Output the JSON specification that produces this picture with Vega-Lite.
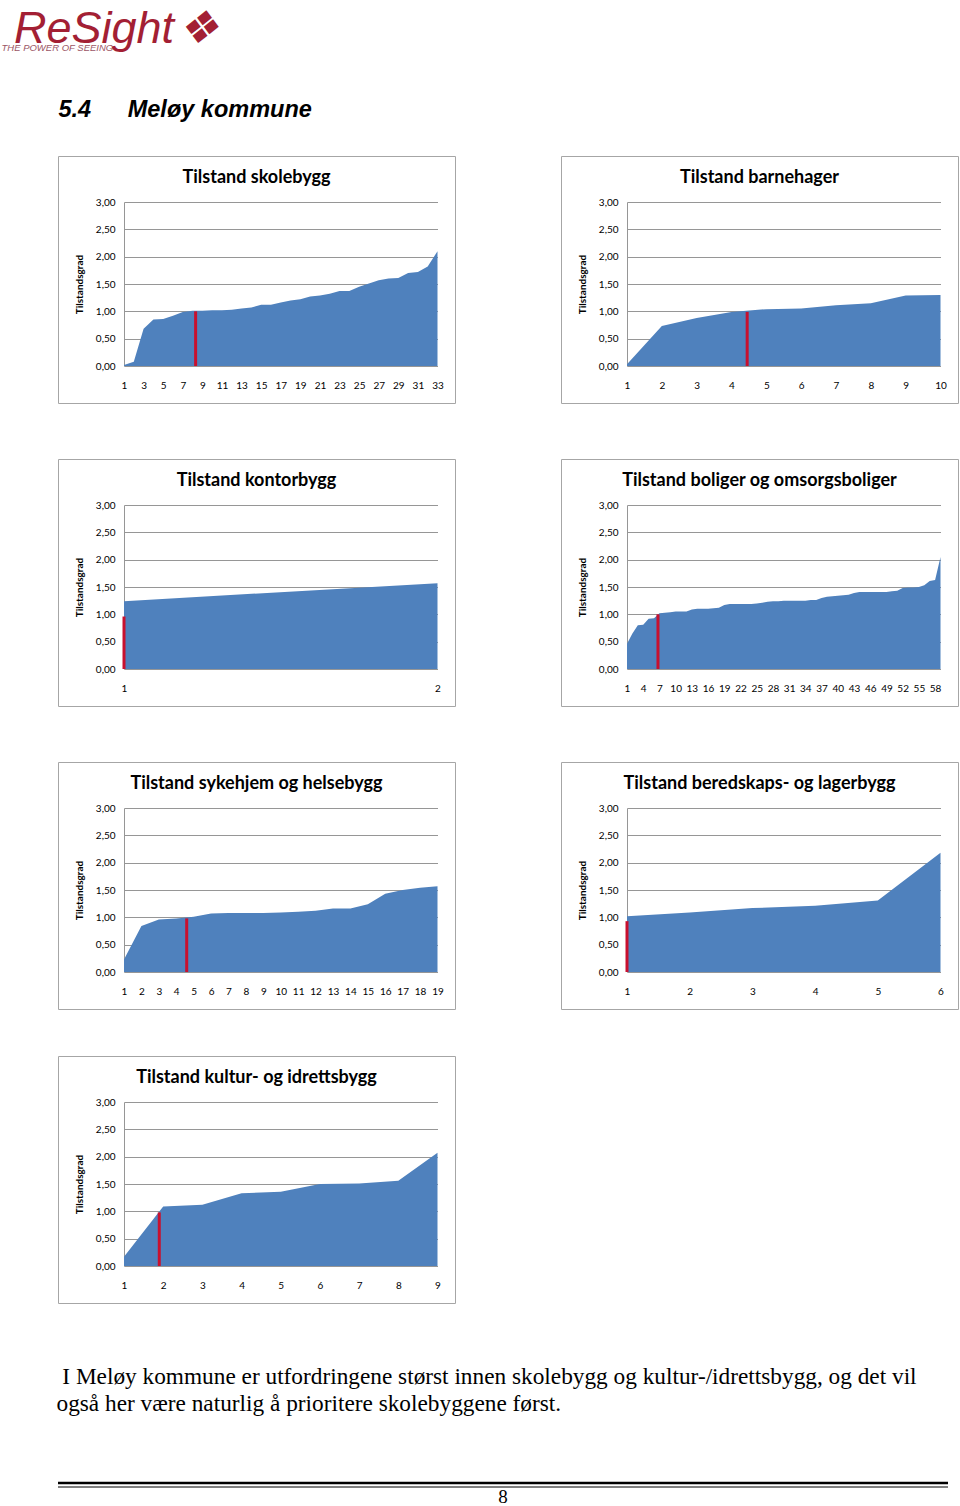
{
  "$schema": "https://vega.github.io/schema/vega-lite/v6.json",
  "background": "white",
  "padding": {"left": 1, "top": 6, "right": 0, "bottom": 0},
  "title": {
    "text": "\u200b\u00a0ReSight\u200a\u2756",
    "subtitle": "THE POWER OF SEEING",
    "anchor": "start",
    "font": "Liberation Sans",
    "fontSize": 45,
    "fontStyle": "italic",
    "fontWeight": "normal",
    "color": "#A31F34",
    "subtitleFont": "Liberation Sans",
    "subtitleFontSize": 9.5,
    "subtitleFontStyle": "italic",
    "subtitleColor": "#9B5565",
    "subtitlePadding": -9,
    "offset": 46,
    "dx": -55
  },
  "config": {
    "view": {"stroke": "#A6A6A6", "strokeWidth": 1},
    "font": "Lato",
    "title": {"font": "Lato", "fontSize": 18, "fontWeight": "bold", "color": "#000000", "anchor": "middle", "offset": -31},
    "axisY": {
      "offset": -66,
      "tickCount": 7,
      "domain": true,
      "domainColor": "#969696",
      "ticks": false,
      "tickSize": 0,
      "grid": false,
      "labelExpr": "replace(format(datum.value, '.2f'), '.', ',')",
      "labelPadding": 9,
      "labelFont": "Lato",
      "labelFontSize": 10,
      "labelColor": "#000000",
      "titleFont": "Lato",
      "titleFontSize": 10,
      "titleFontWeight": "bold",
      "titleColor": "#000000",
      "titlePadding": 11
    },
    "axisX": {
      "offset": -37,
      "domain": false,
      "ticks": false,
      "tickSize": 0,
      "grid": false,
      "labelPadding": 14,
      "labelFont": "Lato",
      "labelFontSize": 10,
      "labelColor": "#000000",
      "labelFlush": false,
      "labelOverlap": false,
      "labelAngle": 0,
      "format": "d"
    }
  },
  "datasets": {
    "skolebygg": [
      {"nr": 1, "grad": 0.02}, {"nr": 2, "grad": 0.08}, {"nr": 3, "grad": 0.68}, {"nr": 4, "grad": 0.85},
      {"nr": 5, "grad": 0.86}, {"nr": 6, "grad": 0.92}, {"nr": 7, "grad": 0.99}, {"nr": 8, "grad": 1.01},
      {"nr": 9, "grad": 1.01}, {"nr": 10, "grad": 1.02}, {"nr": 11, "grad": 1.02}, {"nr": 12, "grad": 1.03},
      {"nr": 13, "grad": 1.05}, {"nr": 14, "grad": 1.07}, {"nr": 15, "grad": 1.12}, {"nr": 16, "grad": 1.12},
      {"nr": 17, "grad": 1.16}, {"nr": 18, "grad": 1.2}, {"nr": 19, "grad": 1.22}, {"nr": 20, "grad": 1.27},
      {"nr": 21, "grad": 1.29}, {"nr": 22, "grad": 1.32}, {"nr": 23, "grad": 1.37}, {"nr": 24, "grad": 1.37},
      {"nr": 25, "grad": 1.45}, {"nr": 26, "grad": 1.51}, {"nr": 27, "grad": 1.57}, {"nr": 28, "grad": 1.6},
      {"nr": 29, "grad": 1.61}, {"nr": 30, "grad": 1.7}, {"nr": 31, "grad": 1.72}, {"nr": 32, "grad": 1.82},
      {"nr": 33, "grad": 2.1}
    ],
    "skolebygg_grense": [{"nr": 8.31, "grad": 1.0}],
    "barnehager": [
      {"nr": 1, "grad": 0.03}, {"nr": 2, "grad": 0.73}, {"nr": 3, "grad": 0.88}, {"nr": 4, "grad": 0.99},
      {"nr": 5, "grad": 1.04}, {"nr": 6, "grad": 1.05}, {"nr": 7, "grad": 1.11}, {"nr": 8, "grad": 1.15},
      {"nr": 9, "grad": 1.29}, {"nr": 10, "grad": 1.3}
    ],
    "barnehager_grense": [{"nr": 4.45, "grad": 0.99}],
    "kontorbygg": [{"nr": 1, "grad": 1.24}, {"nr": 2, "grad": 1.57}],
    "kontorbygg_grense": [{"nr": 1, "grad": 0.96}],
    "boliger": [
      {"nr": 1, "grad": 0.46}, {"nr": 2, "grad": 0.65}, {"nr": 3, "grad": 0.8}, {"nr": 4, "grad": 0.81},
      {"nr": 5, "grad": 0.92}, {"nr": 6, "grad": 0.93}, {"nr": 7, "grad": 1.02}, {"nr": 8, "grad": 1.03},
      {"nr": 9, "grad": 1.04}, {"nr": 10, "grad": 1.05}, {"nr": 11, "grad": 1.05}, {"nr": 12, "grad": 1.05},
      {"nr": 13, "grad": 1.09}, {"nr": 14, "grad": 1.1}, {"nr": 15, "grad": 1.1}, {"nr": 16, "grad": 1.1},
      {"nr": 17, "grad": 1.11}, {"nr": 18, "grad": 1.12}, {"nr": 19, "grad": 1.17}, {"nr": 20, "grad": 1.19},
      {"nr": 21, "grad": 1.19}, {"nr": 22, "grad": 1.19}, {"nr": 23, "grad": 1.19}, {"nr": 24, "grad": 1.19},
      {"nr": 25, "grad": 1.2}, {"nr": 26, "grad": 1.21}, {"nr": 27, "grad": 1.23}, {"nr": 28, "grad": 1.24},
      {"nr": 29, "grad": 1.24}, {"nr": 30, "grad": 1.25}, {"nr": 31, "grad": 1.25}, {"nr": 32, "grad": 1.25},
      {"nr": 33, "grad": 1.25}, {"nr": 34, "grad": 1.25}, {"nr": 35, "grad": 1.26}, {"nr": 36, "grad": 1.26},
      {"nr": 37, "grad": 1.3}, {"nr": 38, "grad": 1.32}, {"nr": 39, "grad": 1.33}, {"nr": 40, "grad": 1.34},
      {"nr": 41, "grad": 1.35}, {"nr": 42, "grad": 1.36}, {"nr": 43, "grad": 1.39}, {"nr": 44, "grad": 1.41},
      {"nr": 45, "grad": 1.41}, {"nr": 46, "grad": 1.41}, {"nr": 47, "grad": 1.41}, {"nr": 48, "grad": 1.41},
      {"nr": 49, "grad": 1.41}, {"nr": 50, "grad": 1.42}, {"nr": 51, "grad": 1.43}, {"nr": 52, "grad": 1.48},
      {"nr": 53, "grad": 1.49}, {"nr": 54, "grad": 1.49}, {"nr": 55, "grad": 1.5}, {"nr": 56, "grad": 1.53},
      {"nr": 57, "grad": 1.61}, {"nr": 58, "grad": 1.63}, {"nr": 59, "grad": 2.05}
    ],
    "boliger_grense": [{"nr": 6.73, "grad": 1.0}],
    "sykehjem": [
      {"nr": 1, "grad": 0.23}, {"nr": 2, "grad": 0.84}, {"nr": 3, "grad": 0.96}, {"nr": 4, "grad": 0.98},
      {"nr": 5, "grad": 1.01}, {"nr": 6, "grad": 1.07}, {"nr": 7, "grad": 1.08}, {"nr": 8, "grad": 1.08},
      {"nr": 9, "grad": 1.08}, {"nr": 10, "grad": 1.09}, {"nr": 11, "grad": 1.1}, {"nr": 12, "grad": 1.12},
      {"nr": 13, "grad": 1.16}, {"nr": 14, "grad": 1.16}, {"nr": 15, "grad": 1.24}, {"nr": 16, "grad": 1.43},
      {"nr": 17, "grad": 1.5}, {"nr": 18, "grad": 1.54}, {"nr": 19, "grad": 1.57}
    ],
    "sykehjem_grense": [{"nr": 4.6, "grad": 0.98}],
    "beredskap": [
      {"nr": 1, "grad": 1.02}, {"nr": 2, "grad": 1.09}, {"nr": 3, "grad": 1.17}, {"nr": 4, "grad": 1.21},
      {"nr": 5, "grad": 1.31}, {"nr": 6, "grad": 2.18}
    ],
    "beredskap_grense": [{"nr": 1, "grad": 0.93}],
    "kultur": [
      {"nr": 1, "grad": 0.17}, {"nr": 2, "grad": 1.09}, {"nr": 3, "grad": 1.12}, {"nr": 4, "grad": 1.33},
      {"nr": 5, "grad": 1.36}, {"nr": 6, "grad": 1.5}, {"nr": 7, "grad": 1.51}, {"nr": 8, "grad": 1.56},
      {"nr": 9, "grad": 2.07}
    ],
    "kultur_grense": [{"nr": 1.9, "grad": 0.98}]
  },
  "vconcat": [
    {
      "title": {
        "text": "5.4\u2003\u00a0\u00a0Meløy kommune",
        "anchor": "start",
        "font": "Liberation Sans",
        "fontSize": 23.5,
        "fontStyle": "italic",
        "fontWeight": "bold",
        "color": "#000000",
        "offset": 34,
        "dx": 2
      },
      "vconcat": [
        {
          "title": {
            "text": ["\u200b\u00a0I Meløy kommune er utfordringene størst innen skolebygg og kultur-/idrettsbygg, og det vil", "også her være naturlig å prioritere skolebyggene først."],
            "orient": "bottom",
            "anchor": "start",
            "font": "Liberation Serif",
            "fontSize": 23.3,
            "fontWeight": "normal",
            "color": "#000000",
            "lineHeight": 27.5,
            "offset": 62,
            "dx": -1
          },
          "spacing": 45,
          "vconcat": [
            {
              "spacing": 54,
              "vconcat": [
                {
                  "spacing": 104,
                  "hconcat": [
                    {
                      "width": 397, "height": 247,
                      "title": "Tilstand skolebygg",
                      "resolve": {"axis": {"y": "independent"}},
                      "layer": [
                        {
                          "data": {"name": "skolebygg"},
                          "mark": {"type": "area", "color": "#4F81BD"},
                          "encoding": {
                            "x": {"field": "nr", "type": "quantitative", "title": null,
                                  "scale": {"domain": [1, 33], "range": [66, 379.5], "nice": false, "zero": false},
                                  "axis": {"values": [1, 3, 5, 7, 9, 11, 13, 15, 17, 19, 21, 23, 25, 27, 29, 31, 33], "tickCount": 100, "labelOverlap": false, "labelFlush": false}},
                            "y": {"field": "grad", "type": "quantitative", "title": "Tilstandsgrad",
                                  "scale": {"domain": [0, 3], "range": [210, 46], "nice": false}}
                          }
                        },
                        {
                          "data": {"name": "skolebygg_grense"},
                          "mark": {"type": "rule", "color": "#C8102E", "strokeWidth": 3},
                          "encoding": {
                            "x": {"field": "nr", "type": "quantitative"},
                            "y": {"field": "grad", "type": "quantitative", "axis": {"orient": "left", "offset": 0, "grid": true, "gridColor": "#969696", "labels": false, "domain": false, "ticks": false, "title": null}},
                            "y2": {"datum": 0}
                          }
                        }
                      ]
                    },
                    {
                      "width": 397, "height": 247,
                      "title": "Tilstand barnehager",
                      "resolve": {"axis": {"y": "independent"}},
                      "layer": [
                        {
                          "data": {"name": "barnehager"},
                          "mark": {"type": "area", "color": "#4F81BD"},
                          "encoding": {
                            "x": {"field": "nr", "type": "quantitative", "title": null,
                                  "scale": {"domain": [1, 10], "range": [66, 379.5], "nice": false, "zero": false},
                                  "axis": {"values": [1, 2, 3, 4, 5, 6, 7, 8, 9, 10], "tickCount": 100, "labelOverlap": false, "labelFlush": false}},
                            "y": {"field": "grad", "type": "quantitative", "title": "Tilstandsgrad",
                                  "scale": {"domain": [0, 3], "range": [210, 46], "nice": false}}
                          }
                        },
                        {
                          "data": {"name": "barnehager_grense"},
                          "mark": {"type": "rule", "color": "#C8102E", "strokeWidth": 3},
                          "encoding": {
                            "x": {"field": "nr", "type": "quantitative"},
                            "y": {"field": "grad", "type": "quantitative", "axis": {"orient": "left", "offset": 0, "grid": true, "gridColor": "#969696", "labels": false, "domain": false, "ticks": false, "title": null}},
                            "y2": {"datum": 0}
                          }
                        }
                      ]
                    }
                  ]
                },
                {
                  "spacing": 104,
                  "hconcat": [
                    {
                      "width": 397, "height": 247,
                      "title": "Tilstand kontorbygg",
                      "resolve": {"axis": {"y": "independent"}},
                      "layer": [
                        {
                          "data": {"name": "kontorbygg"},
                          "mark": {"type": "area", "color": "#4F81BD"},
                          "encoding": {
                            "x": {"field": "nr", "type": "quantitative", "title": null,
                                  "scale": {"domain": [1, 2], "range": [66, 379.5], "nice": false, "zero": false},
                                  "axis": {"values": [1, 2], "tickCount": 100, "labelOverlap": false, "labelFlush": false}},
                            "y": {"field": "grad", "type": "quantitative", "title": "Tilstandsgrad",
                                  "scale": {"domain": [0, 3], "range": [210, 46], "nice": false}}
                          }
                        },
                        {
                          "data": {"name": "kontorbygg_grense"},
                          "mark": {"type": "rule", "color": "#C8102E", "strokeWidth": 3},
                          "encoding": {
                            "x": {"field": "nr", "type": "quantitative"},
                            "y": {"field": "grad", "type": "quantitative", "axis": {"orient": "left", "offset": 0, "grid": true, "gridColor": "#969696", "labels": false, "domain": false, "ticks": false, "title": null}},
                            "y2": {"datum": 0}
                          }
                        }
                      ]
                    },
                    {
                      "width": 397, "height": 247,
                      "title": "Tilstand boliger og omsorgsboliger",
                      "resolve": {"axis": {"y": "independent"}},
                      "layer": [
                        {
                          "data": {"name": "boliger"},
                          "mark": {"type": "area", "color": "#4F81BD"},
                          "encoding": {
                            "x": {"field": "nr", "type": "quantitative", "title": null,
                                  "scale": {"domain": [1, 59], "range": [66, 379.5], "nice": false, "zero": false},
                                  "axis": {"values": [1, 4, 7, 10, 13, 16, 19, 22, 25, 28, 31, 34, 37, 40, 43, 46, 49, 52, 55, 58], "tickCount": 100, "labelOverlap": false, "labelFlush": false}},
                            "y": {"field": "grad", "type": "quantitative", "title": "Tilstandsgrad",
                                  "scale": {"domain": [0, 3], "range": [210, 46], "nice": false}}
                          }
                        },
                        {
                          "data": {"name": "boliger_grense"},
                          "mark": {"type": "rule", "color": "#C8102E", "strokeWidth": 3},
                          "encoding": {
                            "x": {"field": "nr", "type": "quantitative"},
                            "y": {"field": "grad", "type": "quantitative", "axis": {"orient": "left", "offset": 0, "grid": true, "gridColor": "#969696", "labels": false, "domain": false, "ticks": false, "title": null}},
                            "y2": {"datum": 0}
                          }
                        }
                      ]
                    }
                  ]
                },
                {
                  "spacing": 104,
                  "hconcat": [
                    {
                      "width": 397, "height": 247,
                      "title": "Tilstand sykehjem og helsebygg",
                      "resolve": {"axis": {"y": "independent"}},
                      "layer": [
                        {
                          "data": {"name": "sykehjem"},
                          "mark": {"type": "area", "color": "#4F81BD"},
                          "encoding": {
                            "x": {"field": "nr", "type": "quantitative", "title": null,
                                  "scale": {"domain": [1, 19], "range": [66, 379.5], "nice": false, "zero": false},
                                  "axis": {"values": [1, 2, 3, 4, 5, 6, 7, 8, 9, 10, 11, 12, 13, 14, 15, 16, 17, 18, 19], "tickCount": 100, "labelOverlap": false, "labelFlush": false}},
                            "y": {"field": "grad", "type": "quantitative", "title": "Tilstandsgrad",
                                  "scale": {"domain": [0, 3], "range": [210, 46], "nice": false}}
                          }
                        },
                        {
                          "data": {"name": "sykehjem_grense"},
                          "mark": {"type": "rule", "color": "#C8102E", "strokeWidth": 3},
                          "encoding": {
                            "x": {"field": "nr", "type": "quantitative"},
                            "y": {"field": "grad", "type": "quantitative", "axis": {"orient": "left", "offset": 0, "grid": true, "gridColor": "#969696", "labels": false, "domain": false, "ticks": false, "title": null}},
                            "y2": {"datum": 0}
                          }
                        }
                      ]
                    },
                    {
                      "width": 397, "height": 247,
                      "title": "Tilstand beredskaps- og lagerbygg",
                      "resolve": {"axis": {"y": "independent"}},
                      "layer": [
                        {
                          "data": {"name": "beredskap"},
                          "mark": {"type": "area", "color": "#4F81BD"},
                          "encoding": {
                            "x": {"field": "nr", "type": "quantitative", "title": null,
                                  "scale": {"domain": [1, 6], "range": [66, 379.5], "nice": false, "zero": false},
                                  "axis": {"values": [1, 2, 3, 4, 5, 6], "tickCount": 100, "labelOverlap": false, "labelFlush": false}},
                            "y": {"field": "grad", "type": "quantitative", "title": "Tilstandsgrad",
                                  "scale": {"domain": [0, 3], "range": [210, 46], "nice": false}}
                          }
                        },
                        {
                          "data": {"name": "beredskap_grense"},
                          "mark": {"type": "rule", "color": "#C8102E", "strokeWidth": 3},
                          "encoding": {
                            "x": {"field": "nr", "type": "quantitative"},
                            "y": {"field": "grad", "type": "quantitative", "axis": {"orient": "left", "offset": 0, "grid": true, "gridColor": "#969696", "labels": false, "domain": false, "ticks": false, "title": null}},
                            "y2": {"datum": 0}
                          }
                        }
                      ]
                    }
                  ]
                }
              ]
            },
            {
              "hconcat": [
                {
                  "width": 397, "height": 247,
                  "title": "Tilstand kultur- og idrettsbygg",
                  "resolve": {"axis": {"y": "independent"}},
                  "layer": [
                    {
                      "data": {"name": "kultur"},
                      "mark": {"type": "area", "color": "#4F81BD"},
                      "encoding": {
                        "x": {"field": "nr", "type": "quantitative", "title": null,
                              "scale": {"domain": [1, 9], "range": [66, 379.5], "nice": false, "zero": false},
                              "axis": {"values": [1, 2, 3, 4, 5, 6, 7, 8, 9], "tickCount": 100, "labelOverlap": false, "labelFlush": false}},
                        "y": {"field": "grad", "type": "quantitative", "title": "Tilstandsgrad",
                              "scale": {"domain": [0, 3], "range": [210, 46], "nice": false}}
                      }
                    },
                    {
                      "data": {"name": "kultur_grense"},
                      "mark": {"type": "rule", "color": "#C8102E", "strokeWidth": 3},
                      "encoding": {
                        "x": {"field": "nr", "type": "quantitative"},
                        "y": {"field": "grad", "type": "quantitative", "axis": {"orient": "left", "offset": 0, "grid": true, "gridColor": "#969696", "labels": false, "domain": false, "ticks": false, "title": null}},
                        "y2": {"datum": 0}
                      }
                    }
                  ]
                }
              ]
            }
          ]
        }
      ]
    },
    {
      "data": {"values": [{}]},
      "width": 890,
      "height": 4,
      "view": {"stroke": null},
      "title": {
        "text": "8",
        "orient": "bottom",
        "anchor": "middle",
        "font": "Liberation Serif",
        "fontSize": 19,
        "fontWeight": "normal",
        "color": "#000000",
        "offset": 0
      },
      "layer": [
        {
          "mark": {"type": "rule", "color": "#000000", "strokeWidth": 2.5},
          "encoding": {"y": {"datum": 1, "type": "quantitative", "scale": {"domain": [0, 1]}, "axis": null}}
        },
        {
          "mark": {"type": "rule", "color": "#000000", "strokeWidth": 1},
          "encoding": {"y": {"datum": 0, "type": "quantitative"}}
        }
      ]
    }
  ],
  "spacing": 65
}
